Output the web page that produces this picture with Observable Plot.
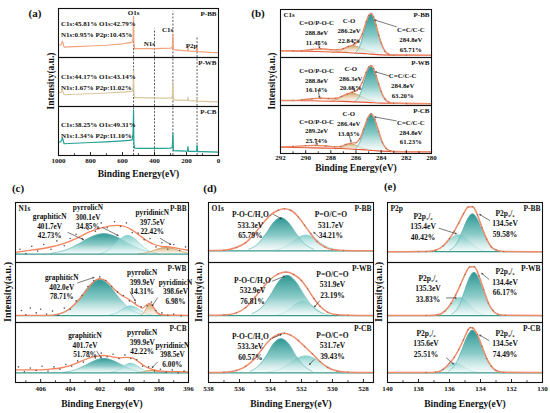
<!DOCTYPE html>
<html><head><meta charset="utf-8">
<script src="https://cdn.jsdelivr.net/npm/d3@7"></script>
<script src="https://cdn.jsdelivr.net/npm/@observablehq/plot@0.6"></script>
<style>
body{margin:0;background:#fff}
#wrap{position:relative;width:550px;height:413px;overflow:hidden;background:#fff;color:#111;font-family:"Liberation Serif","Times New Roman",serif;font-weight:bold}
#wrap svg.panel{position:absolute;overflow:visible}
#wrap svg text{font-family:"Liberation Serif","Times New Roman",serif;font-weight:bold}
#wrap g[aria-label="x-axis label"]{font-size:9.5px}
.lab{position:absolute;white-space:nowrap;transform:translate(-50%,-50%);line-height:1}
.rot{transform:translate(-50%,-50%) rotate(-90deg)}
</style></head>
<body>
<svg width="0" height="0" style="position:absolute">
<defs>
<linearGradient id="gTeal" x1="0" y1="0" x2="0" y2="1">
<stop offset="0" stop-color="#1e8e8a" stop-opacity="0.95"/><stop offset="0.55" stop-color="#6bbdb9" stop-opacity="0.8"/><stop offset="1" stop-color="#eaf7f6" stop-opacity="0.5"/></linearGradient>
<linearGradient id="gTealLight" x1="0" y1="0" x2="0" y2="1">
<stop offset="0" stop-color="#6cc6c2" stop-opacity="0.85"/><stop offset="1" stop-color="#effafa" stop-opacity="0.4"/></linearGradient>
<linearGradient id="gTan" x1="0" y1="0" x2="0" y2="1">
<stop offset="0" stop-color="#c8964f" stop-opacity="0.9"/><stop offset="1" stop-color="#f7ecdc" stop-opacity="0.45"/></linearGradient>
<linearGradient id="gTanLight" x1="0" y1="0" x2="0" y2="1">
<stop offset="0" stop-color="#dfbf8c" stop-opacity="0.75"/><stop offset="1" stop-color="#faf3e8" stop-opacity="0.35"/></linearGradient>
</defs></svg>
<div id="wrap"></div>
<script>
const samples = ["P-BB", "P-WB", "P-CB"];

// ---------- (a) survey ----------
const surveyEV = [1000, 985, 975, 965, 900, 800, 700, 600, 560, 540, 534, 531, 529, 525, 500, 450, 400, 350, 300, 289, 285, 282, 250, 200, 194, 191, 188, 150, 137, 134, 131, 100, 50, 0];
const surveyBB = [.25,.26,.33,.21,.22,.235,.25,.28,.30,.31,.40,.84,.30,.18,.18,.18,.18,.185,.19,.20,.48,.16,.15,.135,.14,.21,.13,.125,.13,.23,.12,.115,.105,.10];
const surveyWB = [.28,.29,.33,.24,.25,.26,.275,.295,.305,.31,.38,.73,.26,.18,.18,.175,.175,.17,.17,.18,.49,.13,.13,.125,.13,.19,.12,.115,.12,.18,.11,.105,.10,.095];
const surveyCB = [.27,.28,.36,.24,.25,.265,.28,.30,.31,.32,.45,.92,.25,.15,.145,.145,.145,.145,.15,.16,.45,.10,.095,.09,.095,.18,.085,.085,.09,.21,.08,.08,.075,.07];
const surveyNames = ["O1s", "N1s", "C1s", "P2p"];
const surveyLines = [531, 400, 285, 134];
const surveyLineTopBB = [.84, .58, .94, .41];
const surveyNameEV = [531, 432, 318, 168];
const surveyNameY = [.92, .29, .56, .25];
const surveyComp = ["C1s:45.81% O1s:42.79%\nN1s:0.95% P2p:10.45%", "C1s:44.17% O1s:43.14%\nN1s:1.67% P2p:11.02%", "C1s:38.25% O1s:49.31%\nN1s:1.34% P2p:11.10%"];
const surveyCompY = [.80, .71, .73];
const surveyTicks = [1000, 800, 600, 400, 200, 0];
const surveyMinor = [900, 700, 500, 300, 100];

// ---------- (b) C1s ----------
const c1sTicks = [292, 290, 288, 286, 284, 282, 280];
const c1sMinor = [291, 289, 287, 285, 283, 281];
const c1sBackground = [
  ["P-BB", [292,290,288,286.5,285.5,284.8,284,283,280], [.14,.13,.115,.10,.085,.07,.055,.05,.045]],
  ["P-WB", [292,290,288,286.5,285.5,284.8,284,283,280], [.105,.10,.09,.08,.07,.06,.05,.045,.04]],
  ["P-CB", [292,290,288,286.5,285.5,284.8,284,283,280], [.13,.12,.11,.095,.08,.065,.05,.04,.035]]
];
const c1sBase = [
  ["P-BB","C=C/C-C",.065],["P-BB","C-O",.095],["P-BB","C=O/P-O-C",.12],
  ["P-WB","C=C/C-C",.055],["P-WB","C-O",.08],["P-WB","C=O/P-O-C",.095],
  ["P-CB","C=C/C-C",.06],["P-CB","C-O",.09],["P-CB","C=O/P-O-C",.115]
];
const c1sPeaks = [
  ["P-BB","C=C/C-C",[286.1,285.7,285.4,285.1,284.8,284.5,284.2,283.9,283.5],[.02,.17,.42,.70,.83,.70,.42,.17,.02]],
  ["P-BB","C-O",[287.9,287.4,287.0,286.6,286.2,285.8,285.4,285.0,284.5],[.005,.03,.075,.125,.15,.125,.075,.03,.005]],
  ["P-BB","C=O/P-O-C",[290.9,290.3,289.8,289.3,288.8,288.3,287.8,287.3,286.7],[.002,.013,.03,.05,.06,.05,.03,.013,.002]],
  ["P-WB","C=C/C-C",[286.1,285.7,285.4,285.1,284.8,284.5,284.2,283.9,283.5],[.02,.16,.38,.63,.75,.63,.38,.16,.02]],
  ["P-WB","C-O",[288.1,287.6,287.15,286.7,286.3,285.9,285.45,285.0,284.5],[.005,.035,.09,.15,.18,.15,.09,.035,.005]],
  ["P-WB","C=O/P-O-C",[291.1,290.45,289.9,289.35,288.8,288.25,287.7,287.15,286.5],[.002,.013,.03,.05,.06,.05,.03,.013,.002]],
  ["P-CB","C=C/C-C",[286.1,285.7,285.4,285.1,284.8,284.5,284.2,283.9,283.5],[.02,.17,.385,.64,.76,.64,.385,.17,.02]],
  ["P-CB","C-O",[287.7,287.3,287.0,286.7,286.4,286.1,285.8,285.5,285.1],[.003,.023,.055,.092,.11,.092,.055,.023,.003]],
  ["P-CB","C=O/P-O-C",[292,291.45,290.7,289.95,289.2,288.45,287.7,286.95,286.0],[.005,.012,.028,.046,.055,.046,.028,.012,.002]]
];
const c1sEnvelope = [
  ["P-BB",[292,291,290.3,289.5,288.8,288,287.5,287,286.6,286.2,285.8,285.5,285.2,285,284.8,284.6,284.4,284.2,284,283.7,283.4,283,282,280],
          [.14,.137,.143,.168,.18,.165,.165,.186,.23,.265,.34,.49,.74,.875,.92,.845,.67,.47,.30,.13,.07,.05,.047,.045]],
  ["P-WB",[292,291,290.3,289.5,288.8,288.2,287.6,287.15,286.7,286.3,285.9,285.5,285.2,285,284.8,284.6,284.4,284.2,284,283.7,283.4,283,282,280],
          [.105,.106,.117,.141,.153,.145,.15,.19,.24,.276,.32,.48,.69,.80,.83,.77,.62,.45,.29,.135,.07,.047,.043,.04]],
  ["P-CB",[292,291,290,289.2,288.4,287.7,287.2,286.8,286.4,286,285.7,285.4,285.1,284.8,284.5,284.2,283.9,283.6,283.3,283,282,280],
          [.135,.145,.165,.17,.155,.137,.148,.187,.216,.226,.31,.505,.72,.83,.71,.465,.23,.105,.058,.042,.038,.035]]
];
const c1sLabels = [
  ["P-BB",289.13,.82,"C=O/P-O-C\n288.8eV\n11.45%"],["P-BB",286.55,.86,"C-O\n286.2eV\n22.84%"],["P-BB",281.64,.68,"C=C/C-C\n284.8eV\n65.71%"],
  ["P-WB",289.13,.83,"C=O/P-O-C\n288.8eV\n16.14%"],["P-WB",286.42,.87,"C-O\n286.3eV\n20.66%"],["P-WB",282.29,.72,"C=C/C-C\n284.8eV\n63.20%"],
  ["P-CB",289.13,.77,"C=O/P-O-C\n289.2eV\n25.74%"],["P-CB",286.58,.92,"C-O\n286.4eV\n13.03%"],["P-CB",281.64,.745,"C=C/C-C\n284.8eV\n61.23%"]
];
const c1sArrows = [
  ["P-BB",282.8,.64,284.5,.78],["P-BB",286.3,.36,286.1,.29],["P-BB",289.0,.31,288.9,.20],
  ["P-WB",283.4,.62,284.45,.70],["P-WB",286.3,.40,286.1,.30],["P-WB",289.0,.32,288.9,.17],
  ["P-CB",282.8,.68,284.5,.76],["P-CB",286.6,.42,286.4,.25],["P-CB",289.2,.30,289.1,.19]
];

// ---------- (c) N1s ----------
const n1sTicks = [406, 404, 402, 400, 398, 396];
const n1sMinor = [407, 405, 403, 401, 399, 397];
const n1sBase = [["P-BB", .14], ["P-WB", .115], ["P-CB", .16]];
const n1sPeaks = [
  ["P-BB","graphiticN",[405.3,404.25,403.4,402.55,401.7,400.85,400.0,399.15,398.1],[.015,.071,.17,.286,.34,.286,.17,.071,.015]],
  ["P-BB","pyrrolicN",[402.0,401.45,401.0,400.55,400.1,399.65,399.2,398.75,398.2],[.007,.065,.155,.26,.31,.26,.155,.065,.007]],
  ["P-BB","pyridinicN",[399.4,398.85,398.4,397.95,397.5,397.05,396.6,396.15,396.0],[.002,.023,.055,.092,.11,.092,.055,.023,.016]],
  ["P-WB","graphiticN",[404.8,403.95,403.3,402.65,402.0,401.35,400.7,400.05,399.2],[.024,.126,.30,.504,.60,.504,.30,.126,.024]],
  ["P-WB","pyrrolicN",[401.4,400.95,400.6,400.25,399.9,399.55,399.2,398.85,398.4],[.006,.034,.08,.134,.16,.134,.08,.034,.006]],
  ["P-WB","pyridinicN",[399.25,399.05,398.9,398.75,398.6,398.45,398.3,398.15,397.95],[.006,.04,.095,.16,.19,.16,.095,.04,.006]],
  ["P-CB","graphiticN",[404.5,403.65,403.0,402.35,401.7,401.05,400.4,399.75,398.9],[.01,.05,.12,.2,.24,.2,.12,.05,.01]],
  ["P-CB","pyrrolicN",[401.3,400.9,400.55,400.2,399.9,399.6,399.25,398.9,398.5],[.006,.034,.08,.134,.16,.134,.08,.034,.006]],
  ["P-CB","pyridinicN",[399.55,399.25,399.0,398.75,398.5,398.25,398.0,397.75,397.45],[.001,.008,.02,.034,.04,.034,.02,.008,.001]]
];
const n1sEnvelope = [
  ["P-BB",[407.7,406.5,405.5,404.5,403.5,402.7,402,401.3,400.8,400.3,399.8,399.3,398.8,398.3,397.8,397.3,396.8,396],
          [.17,.21,.25,.31,.41,.51,.57,.61,.62,.60,.54,.45,.36,.30,.27,.26,.24,.20]],
  ["P-WB",[407.7,405.5,404.8,404.2,403.6,403.0,402.5,402.0,401.5,401.0,400.5,400.0,399.5,399.1,398.8,398.6,398.4,398.1,397.7,396],
          [.12,.12,.14,.20,.33,.50,.66,.73,.68,.55,.45,.38,.29,.24,.30,.32,.27,.16,.125,.12]],
  ["P-CB",[407.7,406.5,405.5,404.5,403.6,402.8,402.2,401.7,401.2,400.7,400.2,399.8,399.4,399.0,398.6,398.2,397.5,396.8,396],
          [.21,.21,.22,.25,.32,.40,.44,.45,.43,.41,.42,.41,.35,.28,.23,.20,.185,.18,.175]]
];
const n1sRaw = [
  ["P-BB",[407.4,407.0,406.6,406.2,405.8,405.3,404.9,404.4,404.0,403.6,403.2,402.8,402.3,401.9,401.5,401.0,400.6,400.2,399.8,399.4,399.0,398.6,398.2,397.8,397.4,397.0,396.6,396.2],
          [.22,.15,.27,.19,.30,.22,.36,.28,.40,.47,.40,.55,.52,.66,.58,.68,.60,.66,.50,.49,.38,.40,.26,.33,.22,.30,.20,.26]],
  ["P-WB",[407.3,407.0,406.7,406.3,406.0,405.6,405.2,404.8,404.4,404.0,403.6,403.2,402.8,402.4,402.0,401.6,401.2,400.8,400.4,400.0,399.6,399.2,398.8,398.5,398.2,397.8,397.4,397.0,396.5],
          [.20,.13,.24,.16,.22,.14,.19,.12,.24,.22,.36,.45,.60,.70,.76,.70,.60,.51,.45,.36,.33,.26,.28,.34,.20,.16,.12,.14,.11]],
  ["P-CB",[407.5,407.1,406.7,406.3,405.9,405.5,405.1,404.7,404.3,403.9,403.5,403.1,402.7,402.3,401.9,401.5,401.1,400.7,400.3,399.9,399.5,399.1,398.7,398.3,397.9,397.5,397.1,396.7,396.3],
          [.26,.18,.24,.20,.27,.19,.26,.22,.30,.27,.36,.34,.43,.41,.49,.43,.47,.40,.46,.40,.38,.27,.26,.19,.22,.17,.21,.16,.19]]
];
const n1sLabels = [
  ["P-BB",405.39,.83,"graphiticN\n401.7eV\n42.73%"],["P-BB",402.8,.98,"pyrrolicN\n300.1eV\n34.85%"],["P-BB",398.45,.90,"pyridinicN\n397.5eV\n22.42%"],
  ["P-WB",404.57,.82,"graphiticN\n402.0eV\n78.71%"],["P-WB",399.13,.90,"pyrrolicN\n399.9eV\n14.31%"],["P-WB",396.88,.74,"pyridinicN\n398.6eV\n6.98%"],
  ["P-CB",403.0,.85,"graphiticN\n401.7eV\n51.78%"],["P-CB",399.13,.90,"pyrrolicN\n399.9eV\n42.22%"],["P-CB",397.09,.69,"pyridinicN\n398.5eV\n6.00%"]
];
const n1sArrows = [
  ["P-BB",404.16,.5,403.1,.38],["P-BB",401.8,.58,400.76,.45],["P-BB",397.9,.40,397.2,.30],
  ["P-WB",403.5,.66,402.4,.75],["P-WB",399.95,.51,399.6,.36],["P-WB",398.1,.41,398.45,.28],
  ["P-CB",402.2,.52,401.9,.41],["P-CB",398.1,.34,398.45,.25]
];

// ---------- (d) O1s ----------
const o1sTicks = [538, 536, 534, 532, 530, 528];
const o1sMinor = [537, 535, 533, 531, 529];
const o1sBase = [["P-BB", .195], ["P-WB", .115], ["P-CB", .16]];
const o1sPeaks = [
  ["P-BB","P=O/C=O",[533.7,533.15,532.65,532.2,531.7,531.2,530.75,530.25,529.7],[.012,.055,.13,.218,.26,.218,.13,.055,.012]],
  ["P-BB","P-O-C/H2O",[535.4,534.8,534.3,533.8,533.3,532.8,532.3,531.8,531.2],[.026,.116,.275,.462,.55,.462,.275,.116,.026]],
  ["P-WB","P=O/C=O",[533.6,533.1,532.7,532.3,531.9,531.5,531.1,530.7,530.2],[.007,.05,.12,.2,.24,.2,.12,.05,.007]],
  ["P-WB","P-O-C/H2O",[535.2,534.55,534.0,533.45,532.9,532.35,531.8,531.25,530.6],[.032,.14,.335,.563,.67,.563,.335,.14,.032]],
  ["P-CB","P=O/C=O",[534.1,533.4,532.85,532.3,531.7,531.1,530.55,530.0,529.3],[.013,.06,.14,.235,.28,.235,.14,.06,.013]],
  ["P-CB","P-O-C/H2O",[535.3,534.75,534.25,533.8,533.3,532.8,532.35,531.85,531.3],[.027,.12,.285,.48,.57,.48,.285,.12,.027]]
];
const o1sEnvelope = [
  ["P-BB",[538,537,536.2,535.6,535.0,534.5,534.0,533.5,533.1,532.7,532.2,531.8,531.4,531.0,530.5,530.0,529.3,527.35],
          [.20,.205,.25,.33,.49,.65,.79,.87,.895,.87,.76,.62,.48,.35,.26,.215,.2,.195]],
  ["P-WB",[538,537,536.2,535.6,535.0,534.5,534.0,533.5,533.0,532.5,532.0,531.6,531.2,530.8,530.3,529.7,529,527.35],
          [.12,.125,.16,.25,.42,.58,.72,.81,.84,.80,.70,.56,.40,.27,.17,.13,.12,.115]],
  ["P-CB",[538,537,536.2,535.6,535.0,534.5,534.0,533.5,533.1,532.7,532.2,531.8,531.3,530.8,530.3,529.7,529,527.35],
          [.165,.17,.2,.27,.40,.57,.72,.80,.82,.79,.70,.60,.48,.35,.25,.19,.17,.165]]
];
const o1sLabels = [
  ["P-BB",535.3,.88,"P-O-C/H₂O\n533.3eV\n65.79%"],["P-BB",530.1,.88,"P=O/C=O\n531.7eV\n34.21%"],
  ["P-WB",535.16,.79,"P-O-C/H₂O\n532.9eV\n76.81%"],["P-WB",530.0,.89,"P=O/C=O\n531.9eV\n23.19%"],
  ["P-CB",535.3,.85,"P-O-C/H₂O\n533.3eV\n60.57%"],["P-CB",530.0,.87,"P=O/C=O\n531.7eV\n39.43%"]
];
const o1sArrows = [
  ["P-BB",533.8,.80,533.3,.73],["P-BB",530.84,.42,531.2,.5],
  ["P-WB",533.87,.69,533.1,.77],["P-WB",530.84,.36,531.16,.26],
  ["P-CB",533.87,.74,533.3,.80],["P-CB",531.2,.38,531.48,.30]
];

// ---------- (e) P2p ----------
const p2pTicks = [140, 138, 136, 134, 132, 130];
const p2pMinor = [139, 137, 135, 133, 131];
const p2pBase = [["P-BB", .18], ["P-WB", .115], ["P-CB", .16]];
const p2pPeaks = [
  ["P-BB","P2p1/2",[137.1,136.6,136.2,135.8,135.4,135.0,134.6,134.2,133.7],[.008,.059,.14,.235,.28,.235,.14,.059,.008]],
  ["P-BB","P2p3/2",[136.0,135.55,135.2,134.85,134.5,134.15,133.8,133.45,133.0],[.025,.13,.315,.53,.63,.53,.315,.13,.025]],
  ["P-WB","P2p1/2",[136.8,136.35,136.0,135.65,135.3,134.95,134.6,134.25,133.8],[.012,.063,.15,.252,.30,.252,.15,.063,.012]],
  ["P-WB","P2p3/2",[135.85,135.4,135.08,134.74,134.4,134.06,133.72,133.4,132.95],[.029,.15,.36,.605,.72,.605,.36,.15,.029]],
  ["P-CB","P2p1/2",[137.0,136.58,136.25,135.93,135.6,135.27,134.95,134.62,134.2],[.007,.034,.08,.134,.16,.134,.08,.034,.007]],
  ["P-CB","P2p3/2",[136.05,135.6,135.23,134.86,134.5,134.14,133.77,133.4,132.95],[.03,.15,.355,.595,.71,.595,.355,.15,.03]]
];
const p2pEnvelope = [
  ["P-BB",[140,138,137.5,136.9,136.4,136.0,135.7,135.4,135.1,134.8,134.5,134.2,133.9,133.6,133.3,133.0,132.5,130],
          [.18,.182,.185,.205,.28,.40,.52,.66,.81,.925,.93,.795,.58,.39,.26,.21,.185,.18]],
  ["P-WB",[140,137.5,136.8,136.3,135.9,135.6,135.3,135.0,134.7,134.4,134.1,133.8,133.5,133.2,132.9,132.4,130],
          [.115,.118,.127,.19,.32,.46,.625,.80,.925,.93,.78,.55,.33,.2,.14,.12,.115]],
  ["P-CB",[140,137.5,136.9,136.4,136.0,135.7,135.4,135.1,134.8,134.65,134.5,134.2,133.9,133.6,133.3,133.0,132.5,130],
          [.165,.166,.17,.22,.32,.42,.55,.71,.88,.915,.91,.80,.60,.40,.27,.20,.17,.165]]
];
const p2pLabels = [
  ["P-BB",137.71,.85,"P2p₁/₂\n135.4eV\n40.42%"],["P-BB",132.42,.90,"P2p₃/₂\n134.5eV\n59.58%"],
  ["P-WB",137.39,.82,"P2p₁/₂\n135.3eV\n33.83%"],["P-WB",132.42,.93,"P2p₃/₂\n134.4eV\n66.17%"],
  ["P-CB",137.52,.90,"P2p₁/₂\n135.6eV\n25.51%"],["P-CB",132.42,.90,"P2p₃/₂\n134.5eV\n74.49%"]
];
const p2pArrows = [
  ["P-BB",136.67,.57,135.56,.48],["P-BB",133.4,.70,134.05,.80],
  ["P-WB",136.2,.41,135.56,.41],["P-WB",133.46,.72,133.92,.82],
  ["P-CB",136.2,.41,135.75,.31],["P-CB",133.46,.70,134.05,.79]
];

// ---------- helpers ----------
const wrap = document.getElementById("wrap");
const GRAD = {teal: "#010101", tealLight: "#020202", tan: "#030303", tanLight: "#040404"};
const GRAD_URL = {"#010101": "url(#gTeal)", "#020202": "url(#gTealLight)", "#030303": "url(#gTan)", "#040404": "url(#gTanLight)"};
const ENV = "#ef8b69", BASE = "#3b9a8c";

function series(list) { return list.flatMap(([s, xs, ys]) => xs.map((x, i) => ({s, x, y: ys[i]}))); }
function peaks(list, baseFor) {
  return list.flatMap(([s, p, xs, hs]) => { const b = baseFor(s, p); return xs.map((x, i) => ({s, p, x, y1: b, y2: b + hs[i]})); });
}
function peakMarks(rows, order, fillOf, strokeOf) {
  return order.flatMap(p => {
    const r = rows.filter(d => d.p === p);
    return [
      Plot.areaY(r, {x: "x", y1: "y1", y2: "y2", fy: "s", fill: fillOf[p], curve: "monotone-x"}),
      Plot.lineY(r, {x: "x", y: "y2", fy: "s", stroke: strokeOf[p], strokeWidth: 0.6, curve: "monotone-x"})
    ];
  });
}
function rows5(list) { return list.map(([s, x1, y1, x2, y2]) => ({s, x1, y1, x2, y2})); }
function rows4(list) { return list.map(([s, x, y, t]) => ({s, x, y, t})); }
function labelMarks(labels, arrows, size, lh) {
  return [
    Plot.text(rows4(labels), {x: "x", y: "y", text: "t", fy: "s", textAnchor: "middle", lineAnchor: "top", fontSize: size, lineHeight: lh, fill: "#111"}),
    Plot.arrow(rows5(arrows), {x1: "x1", y1: "y1", x2: "x2", y2: "y2", fy: "s", stroke: "#222", strokeWidth: 0.6, headLength: 3})
  ];
}
function tagMarks(element, size) {
  return [
    Plot.text(samples, {text: d => d, fy: d => d, frameAnchor: "top-right", dx: -2, dy: 3, lineAnchor: "top", fontSize: size, fill: "#111"}),
    Plot.text([element], {text: d => d, fy: () => "P-BB", frameAnchor: "top-left", dx: 3, dy: 3, lineAnchor: "top", fontSize: size, fill: "#111"})
  ];
}
function makePanel(c) {
  const svg = Plot.plot({
    width: c.width, height: c.height,
    marginTop: c.mt, marginRight: c.mr, marginBottom: c.mb, marginLeft: c.ml,
    style: {background: "transparent", overflow: "visible", color: "#111"},
    x: {domain: c.domain, label: null},
    y: {domain: [0, 1], axis: null},
    fy: {domain: samples, padding: 0, axis: null},
    marks: [
      ...c.marks,
      Plot.ruleX(c.ticks, {x: d => d, y1: 0, y2: c.tickH, fy: () => "P-CB", stroke: "#111", strokeWidth: 0.9}),
      Plot.ruleX(c.minor, {x: d => d, y1: 0, y2: c.tickH * 0.6, fy: () => "P-CB", stroke: "#111", strokeWidth: 0.8}),
      Plot.axisX(c.ticks, {tickSize: 0, tickPadding: c.pad, tickFormat: d => String(d), fontSize: 7, fill: "#111", label: "Binding Energy(eV)", labelAnchor: "center", labelOffset: c.labelOffset, labelArrow: "none"}),
      Plot.frame({stroke: "#111", strokeWidth: 1.1})
    ]
  });
  svg.classList.add("panel");
  svg.querySelectorAll("[fill]").forEach(el => { const f = el.getAttribute("fill"); if (GRAD_URL[f]) el.setAttribute("fill", GRAD_URL[f]); });
  svg.style.left = c.left + "px";
  svg.style.top = c.top + "px";
  wrap.appendChild(svg);
}
function addLabel(text, x, y, size, rotate) {
  const d = document.createElement("div");
  d.className = "lab" + (rotate ? " rot" : "");
  d.textContent = text;
  d.style.left = x + "px"; d.style.top = y + "px"; d.style.fontSize = size + "px";
  wrap.appendChild(d);
}

// ---------- (a) ----------
const surveyRows = samples.flatMap((s, k) => surveyEV.map((x, i) => ({s, x, y: [surveyBB, surveyWB, surveyCB][k][i]})));
const surveyColor = {"P-BB": "#f4a27e", "P-WB": "#dbc79f", "P-CB": "#21a093"};
const dashRows = samples.flatMap(s => surveyLines.map((x, i) => ({s, x, top: s === "P-BB" ? surveyLineTopBB[i] : 1})));
makePanel({
  left: 0, top: 0, width: 228, height: 180, mt: 7, mr: 10, mb: 25, ml: 58,
  domain: [1000, 0], ticks: surveyTicks, minor: surveyMinor, tickH: 0.06, pad: 3, labelOffset: 21,
  marks: [
    Plot.ruleX(dashRows, {x: "x", y1: 0, y2: "top", fy: "s", stroke: "#333", strokeWidth: 0.8, strokeDasharray: "2,1.5"}),
    ...samples.map(s => Plot.lineY(surveyRows.filter(d => d.s === s), {x: "x", y: "y", fy: "s", stroke: surveyColor[s], strokeWidth: 1.2})),
    Plot.text(surveyNames, {x: (d, i) => surveyNameEV[i], y: (d, i) => surveyNameY[i], text: d => d, fy: () => "P-BB", fontSize: 7, fill: "#111"}),
    Plot.text(samples, {x: () => 985, y: (d, i) => surveyCompY[i], text: (d, i) => surveyComp[i], fy: d => d, textAnchor: "start", lineAnchor: "top", fontSize: 7, lineHeight: 1.55, fill: "#111"}),
    Plot.text(samples, {text: d => d, fy: d => d, frameAnchor: "top-right", dx: -2, dy: 3, lineAnchor: "top", fontSize: 7, fill: "#111"})
  ]
});

// ---------- (b) ----------
const c1sBaseOf = (s, p) => c1sBase.find(r => r[0] === s && r[1] === p)[2];
const c1sRows = peaks(c1sPeaks, c1sBaseOf);
const c1sEnv = series(c1sEnvelope);
makePanel({
  left: 270, top: 0, width: 170, height: 180, mt: 8, mr: 9, mb: 26, ml: 10,
  domain: [292, 280], ticks: c1sTicks, minor: c1sMinor, tickH: 0.06, pad: 2, labelOffset: 17,
  marks: [
    ...peakMarks(c1sRows, ["C=O/P-O-C", "C-O", "C=C/C-C"],
      {"C=O/P-O-C": GRAD.tanLight, "C-O": GRAD.tan, "C=C/C-C": GRAD.teal},
      {"C=O/P-O-C": "#d6b582", "C-O": "#c4975a", "C=C/C-C": "#4aa9a5"}),
    Plot.lineY(series(c1sBackground), {x: "x", y: "y", fy: "s", stroke: "#e4583a", strokeWidth: 1.1, curve: "monotone-x"}),
    Plot.lineY(c1sEnv, {x: "x", y: "y", fy: "s", stroke: ENV, strokeWidth: 1.4, curve: "monotone-x"}),
    Plot.dot(c1sEnv, {x: "x", y: "y", fy: "s", r: 0.7, fill: "#9a6a5e", stroke: "none"}),
    ...labelMarks(c1sLabels, c1sArrows, 6.8, 1.45),
    ...tagMarks("C1s", 7)
  ]
});

// ---------- (c) ----------
const n1sBaseOf = s => n1sBase.find(r => r[0] === s)[1];
makePanel({
  left: 0, top: 190, width: 192, height: 223, mt: 11, mr: 4, mb: 30, ml: 15,
  domain: [407.7, 396], ticks: n1sTicks, minor: n1sMinor, tickH: 0.05, pad: 4, labelOffset: 24,
  marks: [
    ...peakMarks(peaks(n1sPeaks, n1sBaseOf), ["graphiticN", "pyrrolicN", "pyridinicN"],
      {graphiticN: GRAD.teal, pyrrolicN: GRAD.tealLight, pyridinicN: GRAD.tan},
      {graphiticN: "#6dbcb8", pyrrolicN: "#8ed3cf", pyridinicN: "#c79a5c"}),
    Plot.ruleY(n1sBase.map(([s, b]) => ({s, b})), {y: "b", fy: "s", stroke: BASE, strokeWidth: 1.2}),
    Plot.lineY(series(n1sEnvelope), {x: "x", y: "y", fy: "s", stroke: "#f3845d", strokeWidth: 1.3, curve: "monotone-x"}),
    Plot.dot(series(n1sRaw), {x: "x", y: "y", fy: "s", r: 0.8, fill: "#555", stroke: "none"}),
    ...labelMarks(n1sLabels, n1sArrows, 7.3, 1.3),
    ...tagMarks("N1s", 7.3)
  ]
});

// ---------- (d) ----------
const o1sBaseOf = s => o1sBase.find(r => r[0] === s)[1];
const o1sEnv = series(o1sEnvelope);
makePanel({
  left: 190, top: 190, width: 190, height: 223, mt: 11, mr: 7, mb: 30, ml: 18,
  domain: [538, 527.35], ticks: o1sTicks, minor: o1sMinor, tickH: 0.05, pad: 4, labelOffset: 24,
  marks: [
    ...peakMarks(peaks(o1sPeaks, o1sBaseOf), ["P=O/C=O", "P-O-C/H2O"],
      {"P=O/C=O": GRAD.tealLight, "P-O-C/H2O": GRAD.teal},
      {"P=O/C=O": "#8ed3cf", "P-O-C/H2O": "#5fb5b1"}),
    Plot.ruleY(o1sBase.map(([s, b]) => ({s, b})), {y: "b", fy: "s", stroke: BASE, strokeWidth: 1.2}),
    Plot.lineY(o1sEnv, {x: "x", y: "y", fy: "s", stroke: ENV, strokeWidth: 1.5, curve: "monotone-x"}),
    Plot.dot(o1sEnv, {x: "x", y: "y", fy: "s", r: 0.7, fill: "#9a6a5e", stroke: "none"}),
    ...labelMarks(o1sLabels, o1sArrows, 7.5, 1.4),
    ...tagMarks("O1s", 7.5)
  ]
});

// ---------- (e) ----------
const p2pBaseOf = s => p2pBase.find(r => r[0] === s)[1];
const p2pEnv = series(p2pEnvelope);
makePanel({
  left: 370, top: 190, width: 180, height: 223, mt: 11, mr: 8, mb: 30, ml: 17,
  domain: [140, 130], ticks: p2pTicks, minor: p2pMinor, tickH: 0.05, pad: 4, labelOffset: 24,
  marks: [
    ...peakMarks(peaks(p2pPeaks, p2pBaseOf), ["P2p1/2", "P2p3/2"],
      {"P2p1/2": GRAD.tealLight, "P2p3/2": GRAD.teal},
      {"P2p1/2": "#8ed3cf", "P2p3/2": "#5fb5b1"}),
    Plot.ruleY(p2pBase.map(([s, b]) => ({s, b})), {y: "b", fy: "s", stroke: BASE, strokeWidth: 1.2}),
    Plot.lineY(p2pEnv, {x: "x", y: "y", fy: "s", stroke: ENV, strokeWidth: 1.5, curve: "monotone-x"}),
    Plot.dot(p2pEnv, {x: "x", y: "y", fy: "s", r: 0.7, fill: "#9a6a5e", stroke: "none"}),
    ...labelMarks(p2pLabels, p2pArrows, 7.5, 1.4),
    ...tagMarks("P2p", 7.5)
  ]
});

// ---------- panel letters and y titles ----------
addLabel("(a)", 35, 13, 11); addLabel("(b)", 258, 13, 11);
addLabel("(c)", 18, 188, 11); addLabel("(d)", 210, 188, 11); addLabel("(e)", 390, 186, 11);
addLabel("Intensity(a.u.)", 52, 81, 9.5, true);
addLabel("Intensity(a.u.)", 273, 81, 9.5, true);
addLabel("Intensity(a.u.)", 8, 292, 10, true);
addLabel("Intensity(a.u.)", 199, 292, 10, true);
addLabel("Intensity(a.u.)", 379, 292, 10, true);
</script>
</body></html>
